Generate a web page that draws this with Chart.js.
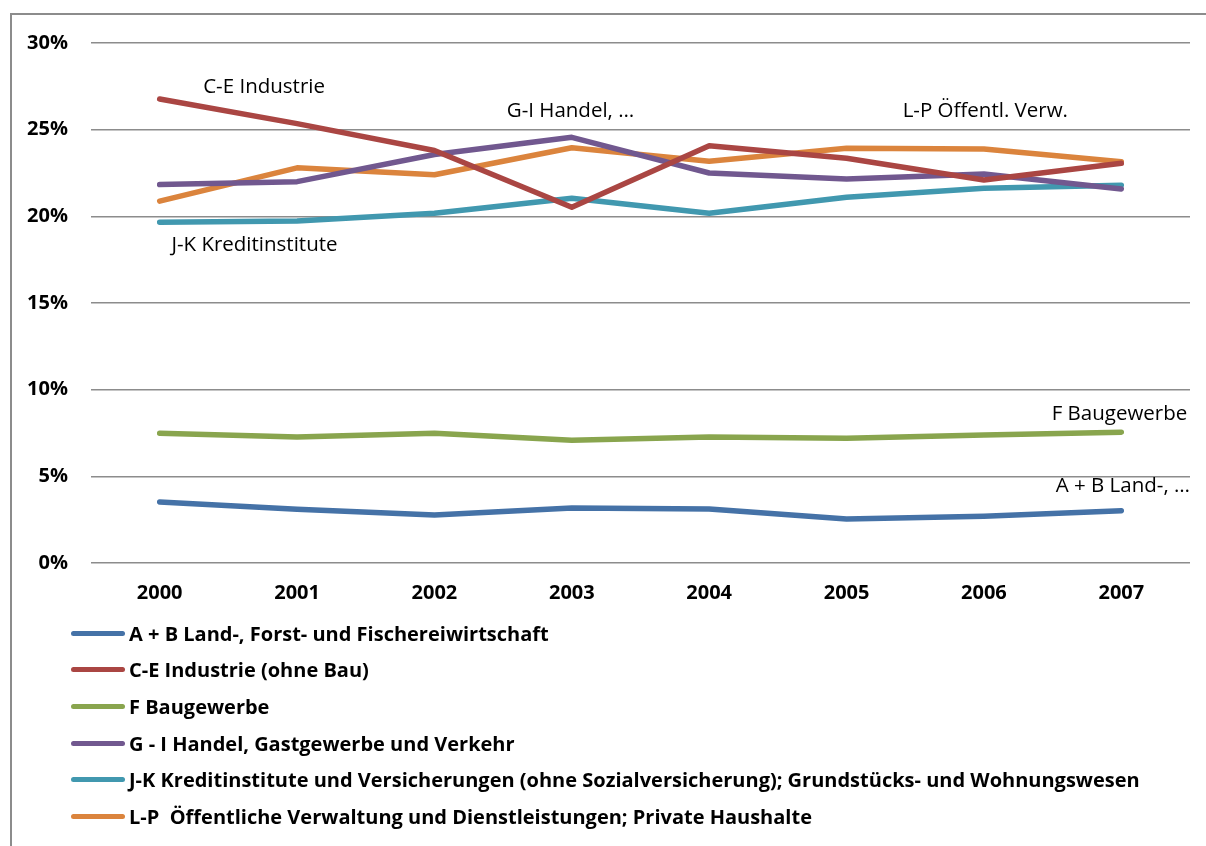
<!DOCTYPE html>
<html lang="de">
<head>
  <meta charset="UTF-8" />
  <title>Anteile nach Wirtschaftsbereichen 2000-2007</title>
  <script src="https://cdn.jsdelivr.net/npm/chart.js"></script>
  <style>
    body { margin: 0; background: #fff; font-family: "Open Sans", sans-serif; }
    .wrap { position: relative; width: 1206px; height: 846px; overflow: hidden; }
    .frame { position: absolute; left: 10px; top: 13px; width: 1300px; height: 900px; border: 2px solid #8c8c8c; }
    canvas { position: absolute; left: 0; top: 0; }
    #legend { position: absolute; left: 71px; top: 615px; }
    .item { height: 36.6px; display: flex; align-items: center; font-weight: bold; font-size: 20px; color: #000; white-space: pre; }
    .swatch { width: 54px; height: 5px; border-radius: 3px; margin-right: 4px; }
  </style>
</head>
<body>
  <div class="wrap">
    <div class="frame"></div>
    <canvas id="chart" width="1206" height="846"></canvas>
    <div id="legend"></div>
  </div>

  <script>
    const years = ["2000", "2001", "2002", "2003", "2004", "2005", "2006", "2007"];
    const yTicks = [0, 5, 10, 15, 20, 25, 30];

    const seriesNames = [
      "A + B Land-, Forst- und Fischereiwirtschaft",
      "C-E Industrie (ohne Bau)",
      "F Baugewerbe",
      "G - I Handel, Gastgewerbe und Verkehr",
      "J-K Kreditinstitute und Versicherungen (ohne Sozialversicherung); Grundstücks- und Wohnungswesen",
      "L-P  Öffentliche Verwaltung und Dienstleistungen; Private Haushalte"
    ];
    const landForst = [3.52, 3.1, 2.77, 3.17, 3.12, 2.54, 2.7, 3.02];
    const industrie = [26.77, 25.35, 23.8, 20.52, 24.07, 23.35, 22.1, 23.06];
    const baugewerbe = [7.48, 7.27, 7.48, 7.08, 7.27, 7.2, 7.38, 7.55];
    const handel = [21.83, 22.0, 23.57, 24.56, 22.5, 22.15, 22.44, 21.58];
    const kredit = [19.66, 19.73, 20.18, 21.04, 20.18, 21.1, 21.62, 21.8];
    const oeffentlich = [20.88, 22.8, 22.4, 23.96, 23.18, 23.93, 23.88, 23.15];
    const colors = ["#4572A7", "#AA4643", "#89A54E", "#71588F", "#4198AF", "#DB843D"];

    // short labels placed on the plot, in data units (category index, percent)
    const tagTexts = ["C-E Industrie", "G-I Handel, …", "L-P Öffentl. Verw.", "J-K Kreditinstitute", "F Baugewerbe", "A + B Land-, …"];
    const tagX = [0.76, 2.99, 6.01, 0.69, 7.48, 7.5];
    const tagY = [27.47, 26.08, 26.08, 18.35, 8.6, 4.45];
    const tagAlign = ["center", "center", "center", "center", "right", "right"];

    const allSeries = [landForst, industrie, baugewerbe, handel, kredit, oeffentlich];

    const tagPlugin = {
      id: "tags",
      afterDatasetsDraw(chart) {
        const ctx = chart.ctx;
        const xs = chart.scales.x, ys = chart.scales.y;
        const step = xs.getPixelForValue(1) - xs.getPixelForValue(0);
        ctx.save();
        ctx.font = "20.5px 'Open Sans'";
        ctx.fillStyle = "#000";
        ctx.textBaseline = "middle";
        tagTexts.forEach((t, i) => {
          ctx.textAlign = tagAlign[i];
          const px = xs.getPixelForValue(0) + tagX[i] * step;
          ctx.fillText(t, px, ys.getPixelForValue(tagY[i]));
        });
        ctx.restore();
      }
    };

    const chart = new Chart(document.getElementById("chart"), {
      type: "line",
      data: {
        labels: years,
        datasets: allSeries.map((d, i) => ({
          label: seriesNames[i],
          data: d,
          borderColor: colors[i],
          backgroundColor: colors[i],
          borderWidth: 5.5,
          pointRadius: 0,
          tension: 0,
          borderCapStyle: "round",
          borderJoinStyle: "round"
        }))
      },
      options: {
        responsive: false,
        animation: false,
        layout: { padding: { top: 43, right: 16, left: 0, bottom: 0 } },
        plugins: { legend: { display: false }, tooltip: { enabled: false } },
        scales: {
          x: {
            offset: true,
            grid: { display: false, drawTicks: false },
            border: { display: false },
            ticks: { color: "#000", padding: 18, font: { family: "Open Sans", size: 20, weight: "bold" } },
            afterFit(s) { s.height = 846 - 563; }
          },
          y: {
            min: 0,
            max: 30,
            afterBuildTicks(s) { s.ticks = yTicks.map(v => ({ value: v })); },
            grid: { color: "#8c8c8c", lineWidth: 1.5, drawTicks: false },
            border: { display: false },
            ticks: {
              color: "#000",
              padding: 23,
              font: { family: "Open Sans", size: 20, weight: "bold" },
              callback: v => v + "%"
            },
            afterFit(s) { s.width = 91; }
          }
        }
      },
      plugins: [tagPlugin]
    });

    const legend = document.getElementById("legend");
    chart.data.datasets.forEach(ds => {
      const row = document.createElement("div");
      row.className = "item";
      row.innerHTML = `<span class="swatch" style="background:${ds.borderColor}"></span><span></span>`;
      row.lastChild.textContent = ds.label;
      legend.appendChild(row);
    });
  </script>
</body>
</html>
